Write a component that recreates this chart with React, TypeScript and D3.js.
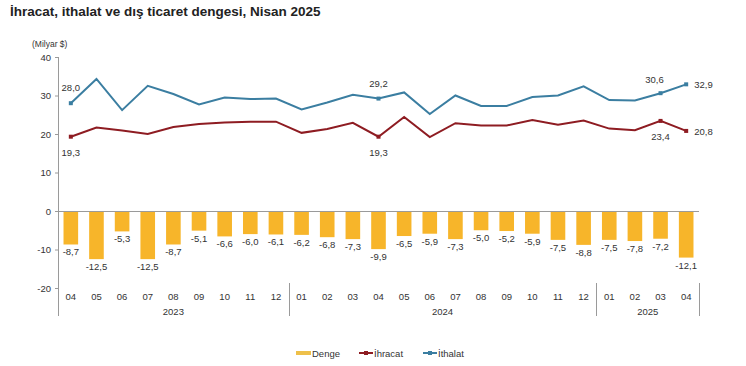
import React from "react";
import * as d3 from "d3";

const months = ["04","05","06","07","08","09","10","11","12","01","02","03","04","05","06","07","08","09","10","11","12","01","02","03","04"];
const years = ["2023","2023","2023","2023","2023","2023","2023","2023","2023","2024","2024","2024","2024","2024","2024","2024","2024","2024","2024","2024","2024","2025","2025","2025","2025"];
const denge = [-8.7,-12.5,-5.3,-12.5,-8.7,-5.1,-6.6,-6.0,-6.1,-6.2,-6.8,-7.3,-9.9,-6.5,-5.9,-7.3,-5.0,-5.2,-5.9,-7.5,-8.8,-7.5,-7.8,-7.2,-12.1];
const ihracat = [19.3,21.7,20.9,20.0,21.8,22.6,23.0,23.2,23.2,20.3,21.3,22.9,19.3,24.4,19.2,22.8,22.2,22.2,23.6,22.4,23.5,21.4,21.0,23.4,20.8];
const ithalat = [28.0,34.3,26.2,32.5,30.4,27.7,29.5,29.1,29.2,26.4,28.2,30.2,29.2,30.8,25.2,30.0,27.3,27.3,29.6,30.0,32.4,28.8,28.7,30.6,32.9];
const yTicks = [-20,-10,0,10,20,30,40];
const ithalatLabels = [
  { i: 0, pos: "above" },
  { i: 12, pos: "above" },
  { i: 23, pos: "aboveLeft" },
  { i: 24, pos: "right" },
];
const ihracatLabels = [
  { i: 0, pos: "below" },
  { i: 12, pos: "below" },
  { i: 23, pos: "below" },
  { i: 24, pos: "right" },
];

const BAR = "#f7b52a";
const RED = "#8e1c22";
const BLUE = "#3b7ea1";
const TXT = "#333";
const AX = "#9a9a9a";
const FONT = "'Liberation Sans', Arial, sans-serif";

const fmt = (v: number) => v.toFixed(1).replace(".", ",");

export default function App() {
  const W = 746, H = 366;
  const keys = months.map((m, i) => years[i] + "-" + m);
  const x = d3.scaleBand<string>().domain(keys).range([58, 699]).paddingInner(0.43).paddingOuter(0.215);
  const y = d3.scaleLinear().domain([-20, 40]).range([288, 57]);
  const cx = (i: number) => (x(keys[i]) as number) + x.bandwidth() / 2;
  const line = d3.line<number>().x((_, i) => cx(i)).y((d) => y(d));

  const yearGroups = Array.from(d3.group(keys.map((k, i) => ({ k, i, yr: years[i] })), (d) => d.yr));
  const step = x.step();

  const lbl = (arr: number[], list: { i: number; pos: string }[], color: string) =>
    list.map(({ i, pos }) => {
      const px = cx(i), py = y(arr[i]);
      let tx = px, ty = py, anchor = "middle";
      if (pos === "above") ty = py - 12;
      else if (pos === "below") ty = py + 19;
      else if (pos === "aboveLeft") { tx = px - 6; ty = py - 10; }
      else if (pos === "right") { tx = px + 8; ty = py + 4; anchor = "start"; }
      return (
        <g key={color + i}>
          <rect x={px - 2} y={py - 2} width={4} height={4} fill={color} />
          <text x={tx} y={ty} textAnchor={anchor} fontSize={9.5} fill={TXT}>{fmt(arr[i])}</text>
        </g>
      );
    });

  return (
    <svg width={W} height={H} style={{ position: "absolute", left: 0, top: 0, background: "#fff" }} fontFamily={FONT}>
      <text x={10} y={16} fontSize={13.5} fontWeight="bold" fill="#222">İhracat, ithalat ve dış ticaret dengesi, Nisan 2025</text>
      <text x={32} y={47} fontSize={8.5} fill={TXT}>(Milyar $)</text>

      {/* y axis */}
      <line x1={58.5} x2={58.5} y1={57} y2={316} stroke={AX} />
      {yTicks.map((t) => (
        <g key={t}>
          <line x1={55} x2={58.5} y1={y(t) + 0.5} y2={y(t) + 0.5} stroke={AX} />
          <text x={51} y={y(t) + 3.5} textAnchor="end" fontSize={9.5} fill={TXT}>{t}</text>
        </g>
      ))}

      {/* bars */}
      {denge.map((v, i) => (
        <rect key={"b" + i} x={x(keys[i])} y={y(0)} width={x.bandwidth()} height={y(v) - y(0)} fill={BAR} />
      ))}
      <line x1={58.5} x2={699} y1={y(0) + 0.5} y2={y(0) + 0.5} stroke={AX} />
      {denge.map((v, i) => (
        <text key={"bl" + i} x={cx(i)} y={y(v) + 11} textAnchor="middle" fontSize={9.5} fill={TXT}>{fmt(v)}</text>
      ))}

      {/* lines */}
      <path d={line(ithalat) || ""} fill="none" stroke={BLUE} strokeWidth={2} />
      <path d={line(ihracat) || ""} fill="none" stroke={RED} strokeWidth={2} />
      {lbl(ithalat, ithalatLabels, BLUE)}
      {lbl(ihracat, ihracatLabels, RED)}

      {/* x axis labels */}
      {months.map((m, i) => (
        <text key={"m" + i} x={cx(i)} y={300} textAnchor="middle" fontSize={9.5} fill={TXT}>{m}</text>
      ))}
      {yearGroups.map(([yr, items]) => {
        const x0 = x(items[0].k) as number - (step - x.bandwidth()) / 2;
        const last = items[items.length - 1];
        const x1 = (x(last.k) as number) + x.bandwidth() + (step - x.bandwidth()) / 2;
        return (
          <g key={yr}>
            <text x={(x0 + x1) / 2} y={315} textAnchor="middle" fontSize={9.5} fill={TXT}>{yr}</text>
            <line x1={Math.round(x1) + 0.5} x2={Math.round(x1) + 0.5} y1={283} y2={316} stroke={AX} />
          </g>
        );
      })}

      {/* legend */}
      <rect x={296} y={351} width={15} height={4} fill="#eec04a" />
      <text x={312} y={357} fontSize={9.5} fill={TXT}>Denge</text>
      <line x1={359} x2={373} y1={353} y2={353} stroke={RED} strokeWidth={2} />
      <rect x={364} y={351} width={4} height={4} fill={RED} />
      <text x={374} y={357} fontSize={9.5} fill={TXT}>İhracat</text>
      <line x1={423} x2={437} y1={353} y2={353} stroke={BLUE} strokeWidth={2} />
      <rect x={428} y={351} width={4} height={4} fill={BLUE} />
      <text x={438} y={357} fontSize={9.5} fill={TXT}>İthalat</text>
    </svg>
  );
}
